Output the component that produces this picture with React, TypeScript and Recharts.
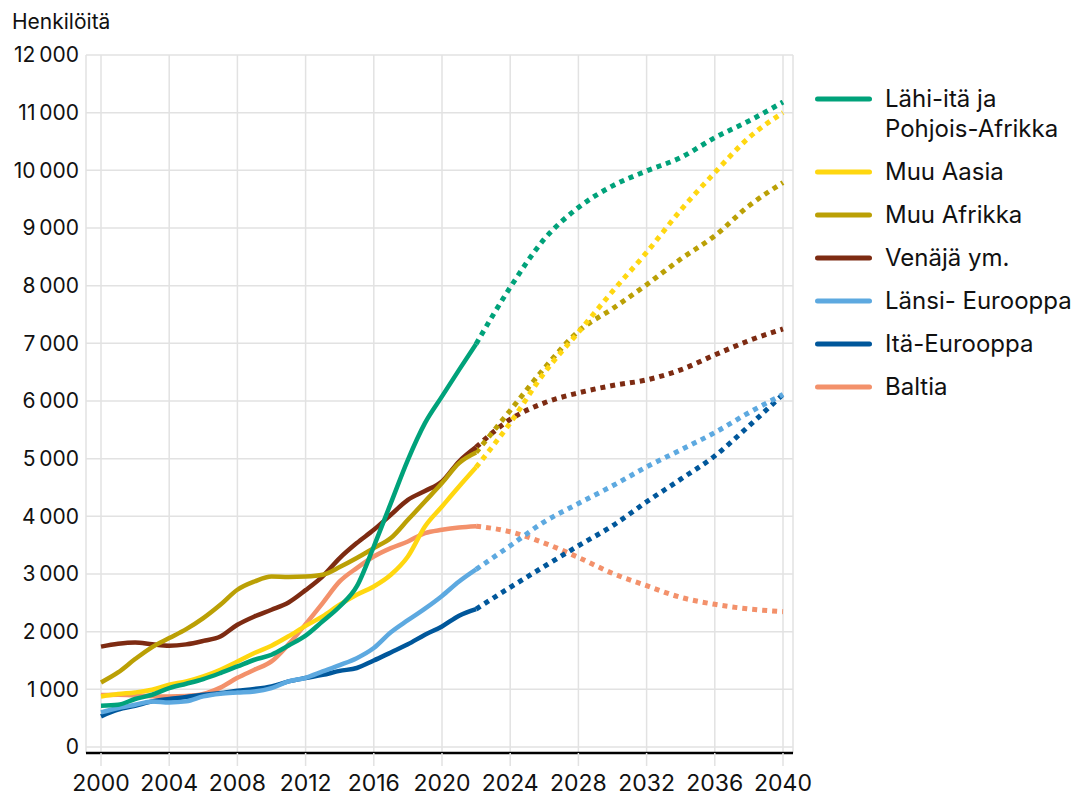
import React from 'react';
import { LineChart, Line, XAxis, YAxis, CartesianGrid, Legend } from 'recharts';

const histYears = [2000, 2001, 2002, 2003, 2004, 2005, 2006, 2007, 2008, 2009, 2010, 2011, 2012, 2013, 2014, 2015, 2016, 2017, 2018, 2019, 2020, 2021, 2022];
const projYears = [2022, 2024, 2026, 2028, 2030, 2032, 2034, 2036, 2038, 2040];
const xTicks = [2000, 2004, 2008, 2012, 2016, 2020, 2024, 2028, 2032, 2036, 2040];
const yTicks = [0, 1000, 2000, 3000, 4000, 5000, 6000, 7000, 8000, 9000, 10000, 11000, 12000];

const lahiHist = [716, 733, 832, 906, 1022, 1097, 1178, 1282, 1397, 1513, 1600, 1760, 1930, 2180, 2437, 2784, 3477, 4229, 4980, 5616, 6080, 6540, 6990];
const lahiProj = [6990, 7970, 8807, 9355, 9730, 9990, 10221, 10567, 10856, 11185];

const aasiaHist = [877, 918, 946, 993, 1080, 1137, 1224, 1340, 1484, 1629, 1756, 1920, 2100, 2264, 2467, 2640, 2784, 2987, 3304, 3824, 4171, 4517, 4850];
const aasiaProj = [4850, 5620, 6488, 7192, 7901, 8577, 9309, 9961, 10567, 11000];

const afrikkaHist = [1120, 1293, 1525, 1733, 1889, 2045, 2236, 2467, 2727, 2870, 2957, 2947, 2955, 2987, 3120, 3276, 3449, 3623, 3940, 4257, 4576, 4923, 5107];
const afrikkaProj = [5107, 5836, 6568, 7209, 7601, 8017, 8461, 8865, 9384, 9788];

const venajaHist = [1740, 1790, 1813, 1780, 1755, 1780, 1840, 1917, 2120, 2264, 2380, 2507, 2720, 2960, 3276, 3536, 3767, 4027, 4287, 4440, 4604, 4951, 5200];
const venajaProj = [5200, 5680, 5968, 6141, 6268, 6366, 6540, 6799, 7047, 7249];

const lansiHist = [600, 676, 733, 791, 773, 791, 877, 924, 946, 964, 1022, 1137, 1200, 1310, 1420, 1540, 1716, 1990, 2200, 2400, 2620, 2870, 3080];
const lansiProj = [3080, 3490, 3905, 4223, 4529, 4857, 5152, 5452, 5798, 6115];

const itaHist = [531, 647, 716, 791, 832, 867, 906, 936, 976, 1005, 1051, 1137, 1196, 1250, 1320, 1370, 1500, 1640, 1780, 1947, 2091, 2276, 2392];
const itaProj = [2392, 2769, 3132, 3490, 3836, 4252, 4644, 5048, 5567, 6115];

const baltiaHist = [900, 905, 895, 880, 877, 885, 920, 1030, 1200, 1340, 1484, 1780, 2130, 2496, 2871, 3103, 3304, 3449, 3564, 3709, 3767, 3807, 3830];
const baltiaProj = [3830, 3732, 3536, 3288, 3011, 2797, 2595, 2474, 2394, 2347];

const series = [
  { key: 'lahi', name: 'Lähi-itä ja Pohjois-Afrikka', label: 'Lähi-itä ja\nPohjois-Afrikka', color: '#00A27A', hist: lahiHist, proj: lahiProj },
  { key: 'aasia', name: 'Muu Aasia', label: 'Muu Aasia', color: '#FFD710', hist: aasiaHist, proj: aasiaProj },
  { key: 'afrikka', name: 'Muu Afrikka', label: 'Muu Afrikka', color: '#BBA005', hist: afrikkaHist, proj: afrikkaProj },
  { key: 'venaja', name: 'Venäjä ym.', label: 'Venäjä ym.', color: '#7D2B12', hist: venajaHist, proj: venajaProj },
  { key: 'lansi', name: 'Länsi- Eurooppa', label: 'Länsi- Eurooppa', color: '#5DA9E0', hist: lansiHist, proj: lansiProj },
  { key: 'ita', name: 'Itä-Eurooppa', label: 'Itä-Eurooppa', color: '#00579B', hist: itaHist, proj: itaProj },
  { key: 'baltia', name: 'Baltia', label: 'Baltia', color: '#F3916B', hist: baltiaHist, proj: baltiaProj },
];

const allYears = Array.from(new Set([...histYears, ...projYears])).sort((a, b) => a - b);
const data = allYears.map((year) => {
  const row: Record<string, number> = { year };
  series.forEach((s) => {
    const hi = histYears.indexOf(year);
    if (hi >= 0) row[s.key + '_h'] = s.hist[hi];
    const pi = projYears.indexOf(year);
    if (pi >= 0) row[s.key + '_p'] = s.proj[pi];
  });
  return row;
});

const FONT = 'Inter, "Noto Sans", sans-serif';
const fmtY = (v: number) => {
  if (v === 0) return '0';
  const th = Math.floor(v / 1000);
  return `${th}\u202F000`;
};

const renderLegend = () => (
  <div style={{ fontFamily: FONT, fontSize: 24, color: '#111' }}>
    {series.map((s) => (
      <div key={s.key} style={{ display: 'flex', alignItems: 'flex-start', marginBottom: 13 }}>
        <svg width={57} height={30} style={{ flex: '0 0 auto' }}>
          <line x1={2.5} x2={54.5} y1={15} y2={15} stroke={s.color} strokeWidth={5} strokeLinecap="round" />
        </svg>
        <div style={{ marginLeft: 13, lineHeight: '30px', whiteSpace: 'pre-line' }}>{s.label}</div>
      </div>
    ))}
  </div>
);

export default function App() {
  const drawOrder = [...series].reverse();
  return (
    <div style={{ position: 'absolute', left: 0, top: 0, width: 1085, height: 796, fontFamily: FONT }}>
      <div style={{ position: 'absolute', left: 12, top: 8, fontSize: 21, lineHeight: '27px', color: '#111', zIndex: 2 }}>
        Henkilöitä
      </div>
      <LineChart width={1085} height={796} data={data} margin={{ top: 55, right: 292, bottom: 0, left: 0 }}>
        <CartesianGrid stroke="#e2e2e2" strokeWidth={1.5} />
        <XAxis
          dataKey="year"
          type="number"
          domain={[2000, 2040]}
          ticks={xTicks}
          padding={{ left: 15, right: 10 }}
          height={43}
          tickSize={13}
          tickMargin={9}
          tickLine={{ stroke: '#e2e2e2', strokeWidth: 1.5 }}
          axisLine={{ stroke: '#000', strokeWidth: 2.5 }}
          tick={{ fontSize: 23, fill: '#111', fontFamily: FONT }}
          interval={0}
        />
        <YAxis
          type="number"
          domain={[0, 12000]}
          ticks={yTicks}
          width={86}
          padding={{ top: 0, bottom: 6 }}
          axisLine={false}
          tickLine={false}
          tickSize={0}
          tickMargin={7}
          tickFormatter={fmtY}
          tick={{ fontSize: 21, fill: '#111', fontFamily: FONT }}
          interval={0}
        />
        <Legend
          layout="horizontal"
          verticalAlign="middle"
          align="center"
          wrapperStyle={{ left: 815, top: 84, width: 270, height: 340 }}
          content={renderLegend}
        />
        {drawOrder.map((s) => (
          <Line
            key={s.key + '_p'}
            dataKey={s.key + '_p'}
            name={s.name}
            type="monotone"
            stroke={s.color}
            strokeWidth={5}
            strokeDasharray="5 5"
            dot={false}
            activeDot={false}
            connectNulls
            isAnimationActive={false}
            legendType="none"
          />
        ))}
        {drawOrder.map((s) => (
          <Line
            key={s.key + '_h'}
            dataKey={s.key + '_h'}
            name={s.name}
            type="monotone"
            stroke={s.color}
            strokeWidth={4.5}
            dot={false}
            activeDot={false}
            connectNulls
            isAnimationActive={false}
          />
        ))}
      </LineChart>
    </div>
  );
}
